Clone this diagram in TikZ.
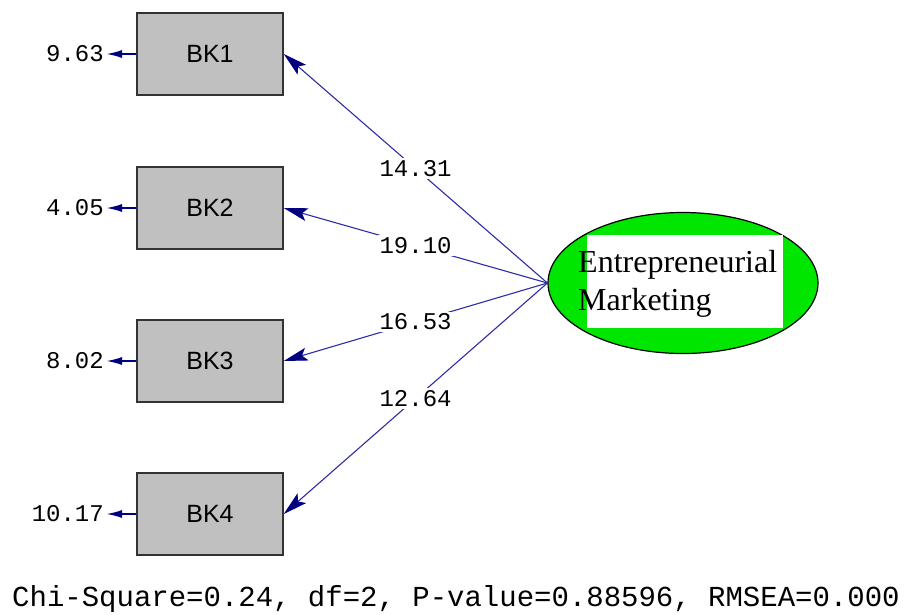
\documentclass[tikz,border=0pt]{standalone}
\usepackage{fontspec}
\setmainfont{Liberation Serif}
\setsansfont{Liberation Sans}
\setmonofont{Liberation Mono}
\usetikzlibrary{shapes.geometric,arrows.meta}
\definecolor{pathblue}{RGB}{45,45,165}
\definecolor{tipblue}{RGB}{0,0,128}
\definecolor{boxgray}{RGB}{192,192,192}
\definecolor{latgreen}{RGB}{0,230,0}

\begin{document}
\begin{tikzpicture}[x=1pt,y=-1pt,
    obs/.style={draw=black!80,line width=1.5pt,fill=boxgray,minimum width=146pt,
      minimum height=82pt,inner sep=0pt,font=\sffamily\fontsize{25}{25}\selectfont},
    coef/.style={fill=white,inner sep=2pt,font=\ttfamily\fontsize{24}{24}\selectfont},
    load/.style={draw=pathblue,line width=1.1pt,
      -{Stealth[length=24pt,width=13pt,inset=5pt,color=tipblue]}},
    errarrow/.style={draw=tipblue,line width=2pt,-{Latex[length=16pt,width=8pt]}}]
            \useasboundingbox (0,0) rectangle (914,614);

            % latent variable
            \node[ellipse,draw=black,line width=1.2pt,fill=latgreen,
                  minimum width=270pt,minimum height=141pt,inner sep=0pt] (em) at (683,283) {};
            \fill[white] (587,235) rectangle (783,328);
            \node[font=\fontsize{32}{38}\selectfont,align=left,anchor=base west,inner sep=0pt]
                (emlab) at (578,310) {Entrepreneurial\\Marketing};

            % indicators and error variances
            \foreach \n/\yy/\err in {1/54/9.63, 2/208/4.05, 3/361/8.02, 4/514/10.17}{
                \node[obs] (bk\n) at (210,\yy) {BK\n};
                \node[coef,anchor=east] (e\n) at (106,\yy) {\err};
                \draw[errarrow] (bk\n.west) -- (e\n.east);
            }

            % loadings
            \foreach \n/\lam in {1/14.31, 2/19.10, 3/16.53, 4/12.64}
                \draw[load] (em.west) -- node[coef,pos=0.5] (l\n) {\lam} (bk\n.east);

            \node[font=\ttfamily\fontsize{29}{29}\selectfont,anchor=base west,inner sep=0pt]
                (fit) at (12,606) {Chi-Square=0.24, df=2, P-value=0.88596, RMSEA=0.000};
\end{tikzpicture}
\end{document}
